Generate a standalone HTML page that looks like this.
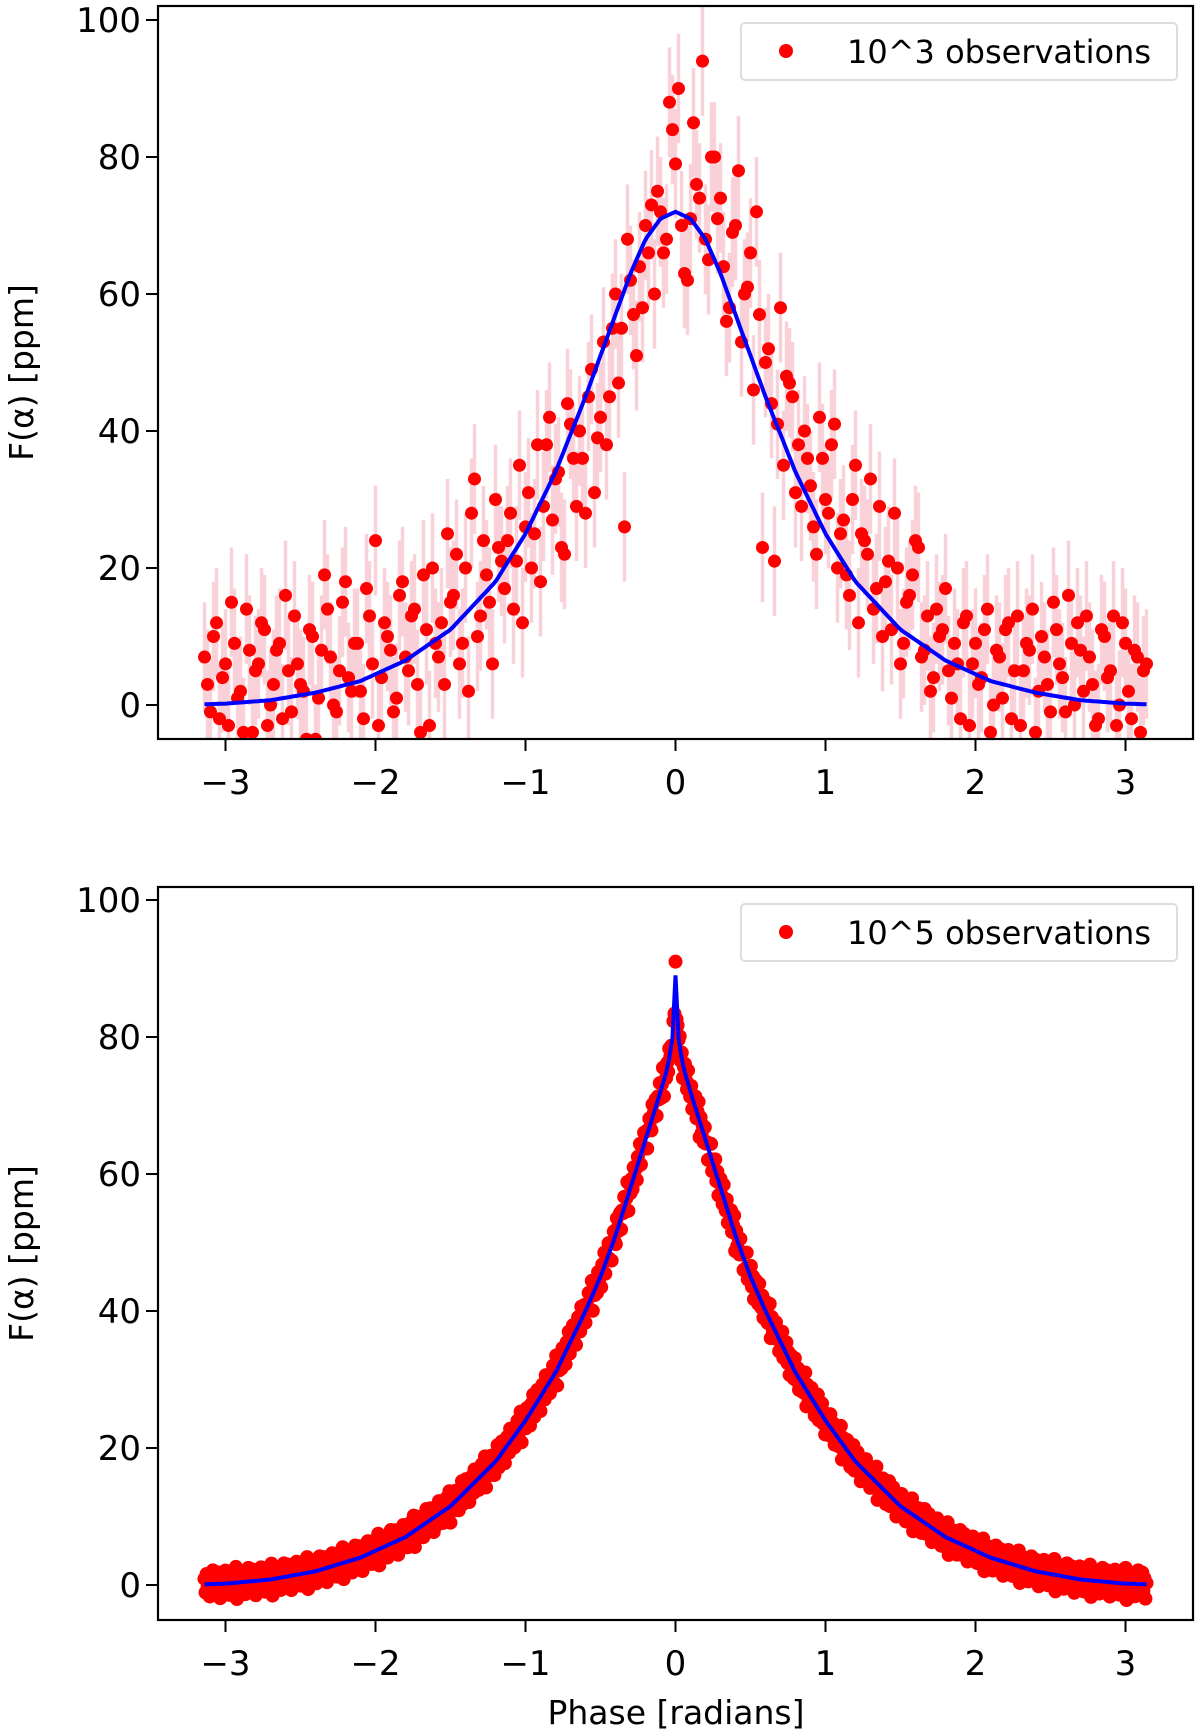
<!DOCTYPE html>
<html><head><meta charset="utf-8"><style>
html,body{margin:0;padding:0;background:#fff;}
svg{display:block;font-family:"DejaVu Sans","Liberation Sans",sans-serif;}
</style></head><body>
<svg id="fig" width="1200" height="1736" viewBox="0 0 1200 1736" xmlns="http://www.w3.org/2000/svg"></svg>
<script>
// ---- data ----
const xTicks = [-3,-2,-1,0,1,2,3];
const yTicks = [0,20,40,60,80,100];
const topObs = [
7,-1,12,4,-3,9,2,14,-4,6,11,0,8,-2,5,13,3,-5,10,1,19,7,-1,15,4,
9,2,17,6,-3,12,8,1,18,5,14,-4,11,20,7,3,15,22,9,2,33,13,19,6,23,
17,28,21,12,31,25,18,38,27,34,22,41,29,36,45,31,42,38,55,47,26,62,51,58,66,
60,72,68,84,90,63,71,76,94,65,80,74,56,69,78,60,66,72,23,52,21,58,48,45,38,
40,32,22,36,28,41,25,19,30,12,24,33,17,10,21,28,6,15,19,23,8,2,14,11,5,
9,-2,13,6,3,11,-4,8,1,12,5,-3,9,14,2,7,-1,11,4,16,0,8,13,3,-2,
10,5,-3,12,2,8,-4,6];
const topObs2 = [
3,10,-2,6,15,1,-4,8,5,12,-3,3,9,16,-1,6,2,11,-5,8,14,0,5,18,2,
9,-2,13,24,4,10,-1,16,7,13,3,19,-3,9,12,25,16,6,20,28,10,24,15,30,21,
24,14,35,26,20,38,29,42,33,23,44,36,40,28,49,39,53,45,60,55,68,57,64,70,73,
75,66,88,79,70,62,85,74,68,80,71,64,58,70,53,61,46,57,50,44,41,35,47,31,29,
36,26,42,30,38,20,27,16,35,25,22,14,29,18,11,20,9,16,24,7,13,4,10,17,1,
6,12,-3,9,4,14,0,7,11,-2,13,5,8,-4,10,3,15,6,-1,9,12,2,7,-3,11,
4,13,0,9,-2,7,5];
const topErr = 8;
const topModelX = [0,0.1,0.2,0.3,0.4,0.5,0.6,0.8,1.0,1.2,1.5,1.8,2.1,2.4,2.7,3.0,3.14];
const topModelY = [72,71,68,63,57,51,45,34,25,18,11,6.5,3.5,1.8,0.7,0.2,0.1];
const botModelX = [0,0.01,0.03,0.06,0.1,0.2,0.3,0.4,0.5,0.6,0.8,1.0,1.2,1.5,1.8,2.1,2.4,2.7,3.0,3.14];
const botModelY = [89,82,78,75,72,65,58,51,45,40,31,24,18,11.5,7,4,2,0.8,0.2,0.1];
const botResid = [0.8,-1.2,1.5,-0.4,0.3,-1.8,1.1,-0.7,2.0,-1.5,0.5,-0.2,1.7,-1.0,0.9,-2.1,0.2,1.3,-0.6,-1.4,1.9,0.1,-0.9,1.2,-1.7,0.6,-0.3,1.6,-1.1,0.4,2.3,-2.4,1.0,-0.8];

const NS="http://www.w3.org/2000/svg";
const svg=document.getElementById('fig');
function mk(tag,attrs,parent){const e=document.createElementNS(NS,tag);for(const k in attrs)e.setAttribute(k,attrs[k]);(parent||svg).appendChild(e);return e;}

const L=158,R=1193,XMIN=-3.45,XMAX=3.45;
function sx(x){return L+(x-XMIN)/(XMAX-XMIN)*(R-L);}
function interp(xs,ys,x){const a=Math.abs(x);for(let i=1;i<xs.length;i++){if(a<=xs[i]){const t=(a-xs[i-1])/(xs[i]-xs[i-1]);return ys[i-1]+t*(ys[i]-ys[i-1]);}}return ys[ys.length-1];}

function panel(name,T,B,y0px,legendText,drawData){
  const sy=v=>y0px-v*6.85;
  const g=mk('g',{});
  
  
  const clipId=name+'-clip';
  const cp=mk('clipPath',{id:clipId},g);mk('rect',{x:L,y:T,width:R-L,height:B-T},cp);
  const plot=mk('g',{'clip-path':'url(#'+clipId+')'},g);
  
  
  drawData(plot,sy);
  const fr=mk('rect',{x:L,y:T,width:R-L,height:B-T,fill:'none',stroke:'#000','stroke-width':2.2},g);
  
  
  xTicks.forEach(t=>{
    const x=sx(t);
    mk('line',{x1:x,x2:x,y1:B,y2:B+12,stroke:'#000','stroke-width':2},g);
    const tx=mk('text',{x:x,y:B+55,'font-size':34,'text-anchor':'middle',fill:'#000'},g);
    tx.textContent=(t<0?'\u2212':'')+Math.abs(t);
    
    
  });
  yTicks.forEach(t=>{
    const y=sy(t);
    mk('line',{x1:L-12,x2:L,y1:y,y2:y,stroke:'#000','stroke-width':2},g);
    const tx=mk('text',{x:L-17,y:y+12,'font-size':34,'text-anchor':'end',fill:'#000'},g);
    tx.textContent=t;
    
    
  });
  const yl=mk('text',{x:0,y:0,'font-size':33,'text-anchor':'middle',fill:'#000',transform:'translate(33,'+((T+B)/2)+') rotate(-90)'},g);
  yl.textContent='F(\u03b1) [ppm]';
  
  
  const lg=mk('g',{},g);
  
  
  mk('rect',{x:741,y:T+17,width:436,height:57,rx:4,fill:'#fff',stroke:'#ddd','stroke-width':2},lg);
  const lm=mk('circle',{cx:786,cy:T+45,r:7,fill:'#ff0000'},lg);
  
  
  const lt=mk('text',{x:847,y:T+57,'font-size':32,fill:'#000'},lg);
  lt.textContent=legendText;
  
  
}

function modelPath(xs,ys,sy){
  let d='';const n=300;
  for(let i=0;i<=n;i++){const x=-3.14+6.28*i/n;d+=(i?'L':'M')+sx(x).toFixed(1)+','+sy(interp(xs,ys,x)).toFixed(1);}
  return d;
}

panel('top-panel',6,739,705,'10^3 observations',(p,sy)=>{
  const n=topObs.length;
  const pts=[];
  topObs.forEach((v,i)=>pts.push([-3.14+6.28*i/(n-1),v]));
  topObs2.forEach((v,i)=>pts.push([-3.14+6.28*(i+0.5)/(n-1),v]));
  pts.forEach(([x,v])=>{
    const e=mk('line',{x1:sx(x),x2:sx(x),y1:sy(v-topErr),y2:sy(v+topErr),stroke:'#f9c9d3','stroke-width':3.5,opacity:0.85},p);
    
    
  });
  pts.forEach(([x,v])=>{
    const c=mk('circle',{cx:sx(x),cy:sy(v),r:6.5,fill:'#ff0000'},p);
    
    
  });
  const m=mk('path',{d:modelPath(topModelX,topModelY,sy),fill:'none',stroke:'#0000ff','stroke-width':4},p);
  
  
});

panel('bottom-panel',887,1620,1585,'10^5 observations',(p,sy)=>{
  const n=900;
  for(let i=0;i<=n;i++){
    const x=-3.14+6.28*i/n;
    const v=interp(botModelX,botModelY,x)+botResid[i%botResid.length];
    const c=mk('circle',{cx:sx(x),cy:sy(v),r:7,fill:'#ff0000'},p);
    
    
  }
  const m=mk('path',{d:modelPath(botModelX,botModelY,sy),fill:'none',stroke:'#0000ff','stroke-width':4},p);
  
  
});

const xl=mk('text',{x:676,y:1724,'font-size':33,'text-anchor':'middle',fill:'#000'});
xl.textContent='Phase [radians]';


</script>
</body></html>
